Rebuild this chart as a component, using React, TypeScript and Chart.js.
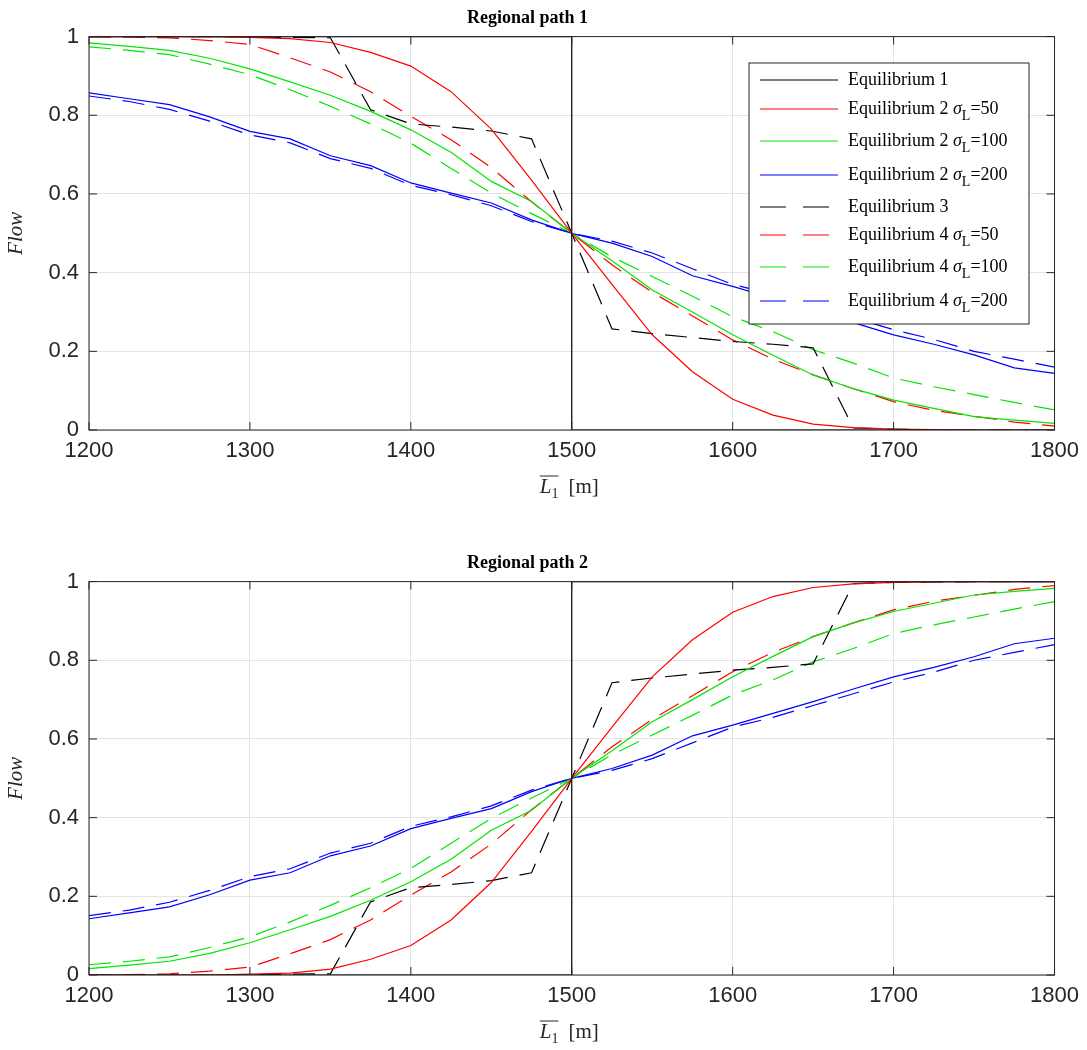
import React, { useRef, useEffect } from 'react';
import Chart from 'chart.js/auto';

const xs = [1200, 1225, 1250, 1275, 1300, 1325, 1350, 1375, 1400, 1425, 1450, 1475, 1500,
  1525, 1550, 1575, 1600, 1625, 1650, 1675, 1700, 1725, 1750, 1775, 1800];

// Regional path 1
const eq1Top = [{ x: 1200, y: 1 }, { x: 1500, y: 1 }, { x: 1500, y: 0 }, { x: 1800, y: 0 }];
const eq2s50Top = [1, 1, 1, 1, 0.998, 0.995, 0.985, 0.96, 0.925, 0.86, 0.765, 0.635, 0.5,
  0.37, 0.242, 0.148, 0.078, 0.038, 0.015, 0.006, 0.002, 0.001, 0, 0, 0];
const eq2s100Top = [0.984, 0.975, 0.965, 0.945, 0.918, 0.885, 0.851, 0.81, 0.763, 0.706, 0.632, 0.581, 0.5,
  0.43, 0.356, 0.3, 0.242, 0.19, 0.14, 0.105, 0.076, 0.055, 0.034, 0.025, 0.017];
const eq2s200Top = [0.857, 0.842, 0.827, 0.796, 0.759, 0.74, 0.697, 0.672, 0.628, 0.602, 0.577, 0.534, 0.5,
  0.475, 0.441, 0.392, 0.365, 0.335, 0.305, 0.273, 0.242, 0.218, 0.191, 0.158, 0.144];
const eq3Top = [1, 1, 1, 1, 0.999, 0.998, 0.997, 0.814, 0.778, 0.77, 0.76, 0.74, 0.5,
  0.257, 0.245, 0.235, 0.225, 0.218, 0.209, 0.005, 0.002, 0.001, 0, 0, 0];
const eq4s50Top = [1, 0.999, 0.997, 0.99, 0.98, 0.946, 0.91, 0.86, 0.797, 0.738, 0.667, 0.58, 0.5,
  0.42, 0.35, 0.29, 0.229, 0.18, 0.14, 0.105, 0.072, 0.05, 0.035, 0.02, 0.01];
const eq4s100Top = [0.974, 0.965, 0.954, 0.93, 0.903, 0.865, 0.823, 0.778, 0.729, 0.665, 0.602, 0.55, 0.5,
  0.44, 0.39, 0.34, 0.288, 0.25, 0.204, 0.17, 0.132, 0.11, 0.09, 0.07, 0.051];
const eq4s200Top = [0.849, 0.835, 0.815, 0.785, 0.75, 0.73, 0.69, 0.665, 0.622, 0.598, 0.57, 0.53, 0.5,
  0.48, 0.45, 0.41, 0.37, 0.345, 0.315, 0.285, 0.255, 0.23, 0.2, 0.18, 0.16];

// Regional path 2
const eq1Bot = [{ x: 1200, y: 0 }, { x: 1500, y: 0 }, { x: 1500, y: 1 }, { x: 1800, y: 1 }];
const eq2s50Bot = [0, 0, 0, 0, 0.002, 0.005, 0.015, 0.04, 0.075, 0.14, 0.235, 0.365, 0.5,
  0.63, 0.758, 0.852, 0.922, 0.962, 0.985, 0.994, 0.998, 0.999, 1, 1, 1];
const eq2s100Bot = [0.016, 0.025, 0.035, 0.055, 0.082, 0.115, 0.149, 0.19, 0.237, 0.294, 0.368, 0.419, 0.5,
  0.57, 0.644, 0.7, 0.758, 0.81, 0.86, 0.895, 0.924, 0.945, 0.966, 0.975, 0.983];
const eq2s200Bot = [0.143, 0.158, 0.173, 0.204, 0.241, 0.26, 0.303, 0.328, 0.372, 0.398, 0.423, 0.466, 0.5,
  0.525, 0.559, 0.608, 0.635, 0.665, 0.695, 0.727, 0.758, 0.782, 0.809, 0.842, 0.856];
const eq3Bot = [0, 0, 0, 0, 0.001, 0.002, 0.003, 0.186, 0.222, 0.23, 0.24, 0.26, 0.5,
  0.743, 0.755, 0.765, 0.775, 0.782, 0.791, 0.995, 0.998, 0.999, 1, 1, 1];
const eq4s50Bot = [0, 0.001, 0.003, 0.01, 0.02, 0.054, 0.09, 0.14, 0.203, 0.262, 0.333, 0.42, 0.5,
  0.58, 0.65, 0.71, 0.771, 0.82, 0.86, 0.895, 0.928, 0.95, 0.965, 0.98, 0.99];
const eq4s100Bot = [0.026, 0.035, 0.046, 0.07, 0.097, 0.135, 0.177, 0.222, 0.271, 0.335, 0.398, 0.45, 0.5,
  0.56, 0.61, 0.66, 0.712, 0.75, 0.796, 0.83, 0.868, 0.89, 0.91, 0.93, 0.949];
const eq4s200Bot = [0.151, 0.165, 0.185, 0.215, 0.25, 0.27, 0.31, 0.335, 0.378, 0.402, 0.43, 0.47, 0.5,
  0.52, 0.55, 0.59, 0.63, 0.655, 0.685, 0.715, 0.745, 0.77, 0.8, 0.82, 0.84];

const yTicks = [0, 0.2, 0.4, 0.6, 0.8, 1];
const xTicks = [1200, 1300, 1400, 1500, 1600, 1700, 1800];

const RED = '#ff0000';
const GREEN = '#00e600';
const BLUE = '#0000ff';
const DASH = [22, 12];

const legendItems = [
  { color: '#000', dash: false, label: 'Equilibrium 1', sub: '' },
  { color: RED, dash: false, label: 'Equilibrium 2 ', sub: '=50' },
  { color: GREEN, dash: false, label: 'Equilibrium 2 ', sub: '=100' },
  { color: BLUE, dash: false, label: 'Equilibrium 2 ', sub: '=200' },
  { color: '#000', dash: true, label: 'Equilibrium 3', sub: '' },
  { color: RED, dash: true, label: 'Equilibrium 4 ', sub: '=50' },
  { color: GREEN, dash: true, label: 'Equilibrium 4 ', sub: '=100' },
  { color: BLUE, dash: true, label: 'Equilibrium 4 ', sub: '=200' },
];
const legendRows = [80, 109, 141, 175, 207, 235, 267, 301];

const pts = (vals: number[]) => vals.map((v, i) => ({ x: xs[i], y: v }));

const frame = {
  id: 'frame',
  afterDraw(chart: any) {
    const { ctx, chartArea: a } = chart;
    ctx.save();
    ctx.strokeStyle = '#262626';
    ctx.lineWidth = 1;
    ctx.strokeRect(a.left, a.top, a.right - a.left, a.bottom - a.top);
    const sx = chart.scales.x;
    const sy = chart.scales.y;
    ctx.beginPath();
    xTicks.forEach((t) => {
      const px = sx.getPixelForValue(t);
      ctx.moveTo(px, a.bottom); ctx.lineTo(px, a.bottom - 8);
      ctx.moveTo(px, a.top); ctx.lineTo(px, a.top + 8);
    });
    yTicks.forEach((t) => {
      const py = sy.getPixelForValue(t);
      ctx.moveTo(a.left, py); ctx.lineTo(a.left + 8, py);
      ctx.moveTo(a.right, py); ctx.lineTo(a.right - 8, py);
    });
    ctx.stroke();
    // x axis title: overlined L with subscript 1
    const cx = (a.left + a.right) / 2;
    const ty = a.bottom + 63;
    ctx.fillStyle = '#262626';
    ctx.textBaseline = 'alphabetic';
    ctx.font = 'italic 21px "Liberation Serif"';
    const lx = cx - 32;
    ctx.fillText('L', lx, ty);
    const lw = ctx.measureText('L').width;
    ctx.font = '14px "Liberation Serif"';
    ctx.fillText('1', lx + lw, ty + 5);
    const ow = lw + ctx.measureText('1').width;
    ctx.beginPath();
    ctx.moveTo(lx, ty - 17); ctx.lineTo(lx + ow, ty - 17);
    ctx.stroke();
    ctx.font = '21px "Liberation Serif"';
    ctx.fillText('[m]', lx + ow + 10, ty);
    ctx.restore();
  },
};

const legendBox = {
  id: 'legendBox',
  afterDraw(chart: any) {
    if (!chart.options.plugins.legendBox?.show) return;
    const { ctx } = chart;
    ctx.save();
    ctx.fillStyle = '#fff';
    ctx.fillRect(749, 63, 280, 261);
    ctx.strokeStyle = '#262626';
    ctx.lineWidth = 1;
    ctx.strokeRect(749, 63, 280, 261);
    legendItems.forEach((it, i) => {
      const y = legendRows[i];
      ctx.strokeStyle = it.color;
      ctx.setLineDash(it.dash ? [26, 17] : []);
      ctx.beginPath(); ctx.moveTo(760, y); ctx.lineTo(838, y); ctx.stroke();
      ctx.setLineDash([]);
      ctx.fillStyle = '#000';
      ctx.textBaseline = 'middle';
      ctx.font = '18px "Liberation Serif"';
      ctx.fillText(it.label, 848, y);
      if (it.sub) {
        let x = 848 + ctx.measureText(it.label).width;
        ctx.font = 'italic 18px "Liberation Serif"';
        ctx.fillText('σ', x, y);
        x += ctx.measureText('σ').width;
        ctx.font = '14px "Liberation Serif"';
        ctx.fillText('L', x, y + 7);
        x += ctx.measureText('L').width;
        ctx.font = '18px "Liberation Serif"';
        ctx.fillText(it.sub, x, y);
      }
    });
    ctx.restore();
  },
};

interface PlotProps {
  title: string;
  height: number;
  xHeight: number;
  titleTop: number;
  eq1: { x: number; y: number }[];
  series: number[][];
  legend: boolean;
}

const Plot: React.FC<PlotProps> = ({ title, height, xHeight, titleTop, eq1, series, legend }) => {
  const ref = useRef<HTMLCanvasElement | null>(null);

  useEffect(() => {
    const ctx = ref.current!.getContext('2d')!;
    const styles = [
      { c: RED, d: [] }, { c: GREEN, d: [] }, { c: BLUE, d: [] },
      { c: '#000', d: DASH }, { c: RED, d: DASH }, { c: GREEN, d: DASH }, { c: BLUE, d: DASH },
    ];
    const datasets: any[] = [
      { data: eq1, borderColor: '#000', borderWidth: 1.2, pointRadius: 0, tension: 0 },
      ...series.map((s, i) => ({
        data: pts(s),
        borderColor: styles[i].c,
        borderDash: styles[i].d,
        borderWidth: 1.2,
        pointRadius: 0,
        tension: 0,
      })),
    ];
    const chart = new Chart(ctx, {
      type: 'line',
      data: { datasets },
      options: {
        animation: false,
        responsive: false,
        layout: { padding: { left: 0, right: 32, top: 0, bottom: 0 } },
        plugins: {
          legend: { display: false },
          tooltip: { enabled: false },
          title: {
            display: true,
            text: title,
            color: '#000',
            font: { family: '"Liberation Serif"', size: 18, weight: 'bold' },
            padding: { top: titleTop, bottom: 7 },
          },
          legendBox: { show: legend },
        } as any,
        scales: {
          x: {
            type: 'linear',
            min: 1200,
            max: 1800,
            afterBuildTicks: (s: any) => { s.ticks = xTicks.map((v) => ({ value: v })); },
            afterFit: (s: any) => { s.height = xHeight; },
            grid: { color: '#e3e3e3', drawTicks: false },
            border: { display: false },
            ticks: {
              color: '#262626', padding: 8, font: { family: '"Liberation Sans"', size: 22 },
              callback: (v: any) => String(v),
            },
          },
          y: {
            min: 0,
            max: 1,
            afterBuildTicks: (s: any) => { s.ticks = yTicks.map((v) => ({ value: v })); },
            afterFit: (s: any) => { s.width = 89; },
            grid: { color: '#e3e3e3', drawTicks: false },
            border: { display: false },
            ticks: {
              color: '#262626', padding: 10, font: { family: '"Liberation Sans"', size: 22 },
              callback: (v: any) => String(Math.round(v * 10) / 10),
            },
            title: {
              display: true,
              text: 'Flow',
              color: '#262626',
              font: { family: '"Liberation Serif"', size: 21, style: 'italic' },
            },
          },
        },
      },
      plugins: [frame, legendBox],
    });
    return () => chart.destroy();
  }, [title, height, xHeight, titleTop, eq1, series, legend]);

  return <canvas ref={ref} width={1087} height={height} style={{ display: 'block' }} />;
};

const topSeries = [eq2s50Top, eq2s100Top, eq2s200Top, eq3Top, eq4s50Top, eq4s100Top, eq4s200Top];
const botSeries = [eq2s50Bot, eq2s100Bot, eq2s200Bot, eq3Bot, eq4s50Bot, eq4s100Bot, eq4s200Bot];

export default function App() {
  useEffect(() => {
    document.body.style.margin = '0';
    document.body.style.background = '#fff';
  }, []);
  return (
    <div style={{ width: 1087, background: '#fff' }}>
      <Plot title="Regional path 1" height={510} xHeight={80} titleTop={8} eq1={eq1Top} series={topSeries} legend />
      <Plot title="Regional path 2" height={540} xHeight={75} titleTop={43} eq1={eq1Bot} series={botSeries} legend={false} />
    </div>
  );
}
